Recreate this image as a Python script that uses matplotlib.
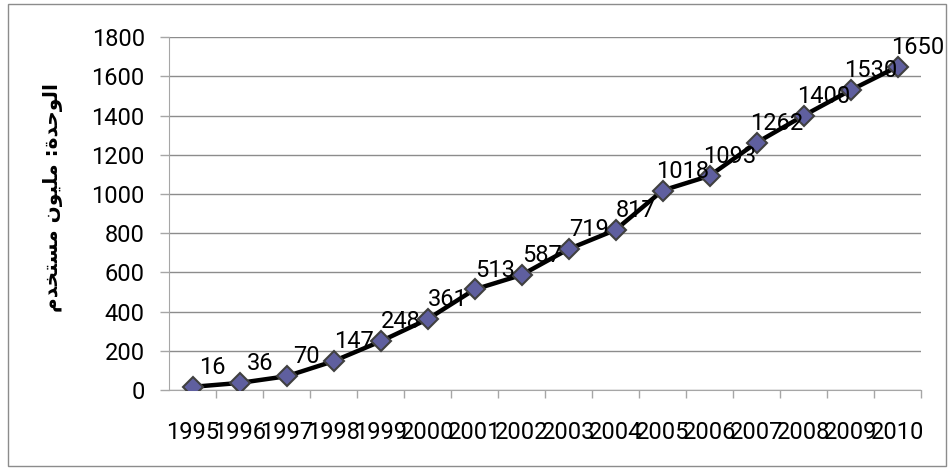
import matplotlib
matplotlib.use("Agg")
import matplotlib.pyplot as plt
from matplotlib.patches import Rectangle

years = ["1995", "1996", "1997", "1998", "1999", "2000", "2001", "2002",
         "2003", "2004", "2005", "2006", "2007", "2008", "2009", "2010"]
users = [16, 36, 70, 147, 248, 361, 513, 587, 719, 817, 1018, 1093, 1262, 1400, 1530, 1650]
y_ticks = [0, 200, 400, 600, 800, 1000, 1200, 1400, 1600, 1800]

# "الوحدة: مليون مستخدم" written with Arabic presentation forms in visual
# order, since matplotlib does no Arabic shaping or bidi on its own
w1 = "\uFE8D\uFEDF\uFEEE\uFEA3\uFEAA\uFE93"        # الوحدة
w2 = "\uFEE3\uFEE0\uFEF4\uFEEE\uFEE5"              # مليون
w3 = "\uFEE3\uFEB4\uFE98\uFEA8\uFEAA\uFEE1"        # مستخدم
y_label = w3[::-1] + " " + w2[::-1] + " :" + w1[::-1]

grid_col = "#8c8c8c"
axis_col = "#a6a6a6"
num_size = 17

fig = plt.figure(figsize=(9.5, 4.68), dpi=100)
ax = fig.add_axes([0.1779, 0.1667, 0.9695 - 0.1779, 0.9203 - 0.1667])

x = list(range(len(years)))
ax.plot(x, users, color="black", linewidth=3.2, marker="D", markersize=10.5,
        markerfacecolor="#5f5f9f", markeredgecolor="#404040", markeredgewidth=1.5,
        zorder=3)

for xi, v in zip(x, users):
    ax.annotate(str(v), (xi, v), xytext=(14.5, 14), textcoords="offset points",
                ha="center", va="center", fontsize=num_size, family="Roboto", zorder=4)

ax.set_xlim(-0.5, len(years) - 0.5)
ax.set_ylim(0, 1800)
ax.set_yticks(y_ticks)
ax.set_yticklabels([str(t) for t in y_ticks], family="Roboto", fontsize=num_size)
ax.yaxis.grid(True, color=grid_col, linewidth=1)
ax.set_axisbelow(True)

# category labels centred on the points, tick marks between categories
ax.set_xticks(x)
ax.set_xticklabels(years, family="Roboto", fontsize=num_size)
ax.tick_params(axis="x", which="major", length=0, pad=22)
ax.set_xticks([i + 0.5 for i in x], minor=True)
ax.tick_params(axis="x", which="minor", length=6, color=axis_col, width=1)
ax.tick_params(axis="y", length=6.5, color=axis_col, width=1, pad=11)

for side in ["top", "right"]:
    ax.spines[side].set_visible(False)
ax.spines["left"].set_color(axis_col)
ax.spines["bottom"].set_color(axis_col)

fig.text(0.056, 0.579, y_label, rotation=90, ha="center", va="center",
         fontsize=14.5, fontweight="bold", family="DejaVu Sans")

fig.patches.append(Rectangle((8 / 950, 2 / 468), 938 / 950, 462 / 468,
                             transform=fig.transFigure, fill=False,
                             edgecolor=grid_col, linewidth=1))

fig.savefig("out.png", dpi=100)
